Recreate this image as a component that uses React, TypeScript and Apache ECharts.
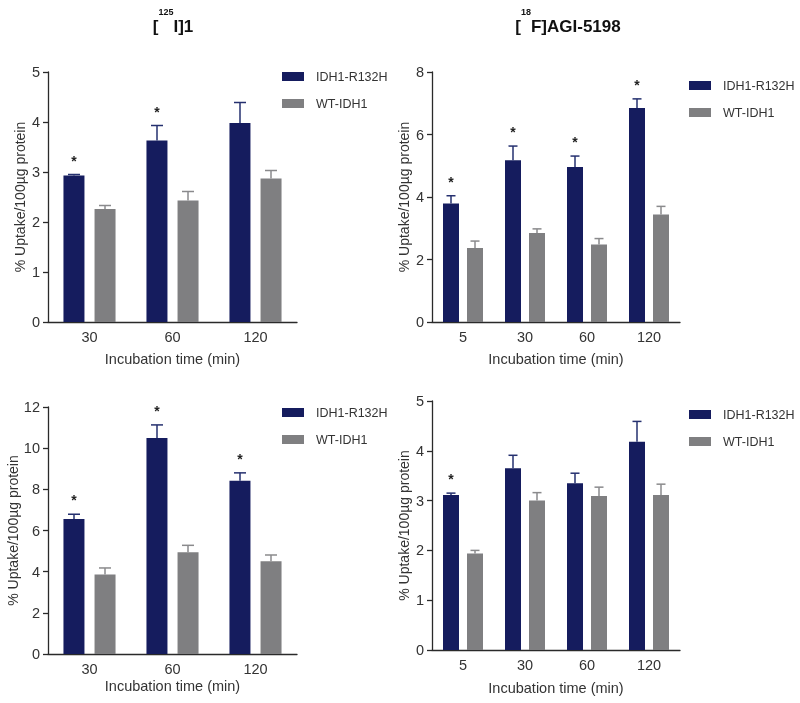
import React, { useEffect, useRef } from "react";
import * as echarts from "echarts";

const seriesNames = ["IDH1-R132H", "WT-IDH1"];
const yAxisName = "% Uptake/100µg protein";
const xAxisName = "Incubation time (min)";

// Top-left: [125I]1
const catsA = ["30", "60", "120"];
const mutA = [2.93, 3.63, 3.98];
const mutErrA = [0.02, 0.3, 0.41];
const wtA = [2.26, 2.43, 2.87];
const wtErrA = [0.07, 0.18, 0.16];
const sigA = [1, 1, 0];

// Top-right: [18F]AGI-5198
const catsB = ["5", "30", "60", "120"];
const mutB = [3.79, 5.18, 4.96, 6.85];
const mutErrB = [0.25, 0.45, 0.35, 0.29];
const wtB = [2.37, 2.85, 2.48, 3.44];
const wtErrB = [0.22, 0.13, 0.19, 0.26];
const sigB = [1, 1, 1, 1];

// Bottom-left
const catsC = ["30", "60", "120"];
const mutC = [6.56, 10.5, 8.42];
const mutErrC = [0.23, 0.63, 0.38];
const wtC = [3.86, 4.94, 4.51];
const wtErrC = [0.32, 0.34, 0.3];
const sigC = [1, 1, 1];

// Bottom-right
const catsD = ["5", "30", "60", "120"];
const mutD = [3.11, 3.65, 3.35, 4.18];
const mutErrD = [0.04, 0.26, 0.2, 0.41];
const wtD = [1.94, 3.0, 3.09, 3.11];
const wtErrD = [0.06, 0.16, 0.18, 0.22];
const sigD = [1, 0, 0, 0];

const yMax = [5, 8, 12, 5];
const yInterval = [1, 2, 2, 1];

const FONT = "'Liberation Sans', Arial, sans-serif";
const NAVY = "#151c5e";
const GREY = "#7f7f81";
const NAVY_ERR = "#25306f";
const GREY_ERR = "#8a8a8c";
const AXIS = "#2a2a2a";

const panels = [
  { cats: catsA, mut: mutA, mutErr: mutErrA, wt: wtA, wtErr: wtErrA, sig: sigA,
    grid: { left: 48, top: 72, width: 249, height: 250 }, barWidth: 21, gap: 10, cap: 6,
    legend: { left: 282, top: 69 }, xGap: 29 },
  { cats: catsB, mut: mutB, mutErr: mutErrB, wt: wtB, wtErr: wtErrB, sig: sigB,
    grid: { left: 432, top: 72, width: 248, height: 250 }, barWidth: 16, gap: 8, cap: 4.5,
    legend: { left: 689, top: 78 }, xGap: 29 },
  { cats: catsC, mut: mutC, mutErr: mutErrC, wt: wtC, wtErr: wtErrC, sig: sigC,
    grid: { left: 48, top: 407, width: 249, height: 247 }, barWidth: 21, gap: 10, cap: 6,
    legend: { left: 282, top: 405 }, xGap: 24 },
  { cats: catsD, mut: mutD, mutErr: mutErrD, wt: wtD, wtErr: wtErrD, sig: sigD,
    grid: { left: 432, top: 401, width: 248, height: 249 }, barWidth: 16, gap: 8, cap: 4.5,
    legend: { left: 689, top: 407 }, xGap: 30 },
];

function errSeries(idx: number, values: number[], errs: number[], sig: number[], offset: number, cap: number, color: string, name: string) {
  return {
    type: "custom",
    name,
    xAxisIndex: idx,
    yAxisIndex: idx,
    silent: true,
    z: 5,
    data: values.map((v, i) => [i, v, errs[i], sig[i]]),
    renderItem: (_params: any, api: any) => {
      const i = api.value(0);
      const v = api.value(1);
      const e = api.value(2);
      const s = api.value(3);
      const base = api.coord([i, v]);
      const top = api.coord([i, v + e]);
      const x = base[0] + offset;
      const children: any[] = [
        { type: "line", shape: { x1: x, y1: base[1], x2: x, y2: top[1] }, style: { stroke: color, lineWidth: 1.5 } },
        { type: "line", shape: { x1: x - cap, y1: top[1], x2: x + cap, y2: top[1] }, style: { stroke: color, lineWidth: 1.5 } },
      ];
      if (s) {
        children.push({
          type: "text",
          x,
          y: top[1] - 14,
          style: { text: "*", fontSize: 14, fontWeight: "bold", fill: "#222", align: "center", verticalAlign: "middle", fontFamily: FONT },
        });
      }
      return { type: "group", children };
    },
  };
}

export default function App() {
  const ref = useRef<HTMLDivElement>(null);
  useEffect(() => {
    document.body.style.margin = "0";
    if (!ref.current) return;
    const chart = echarts.init(ref.current, null, { renderer: "svg" });

    const grid: any[] = [];
    const xAxis: any[] = [];
    const yAxis: any[] = [];
    const series: any[] = [];
    const legend: any[] = [];

    panels.forEach((p, idx) => {
      grid.push({ ...p.grid, containLabel: false });
      xAxis.push({
        type: "category",
        gridIndex: idx,
        data: p.cats,
        name: xAxisName,
        nameLocation: "middle",
        nameGap: p.xGap,
        nameTextStyle: { fontSize: 14.5, color: "#333", fontFamily: FONT },
        axisLine: { show: true, lineStyle: { color: AXIS, width: 1.3 } },
        axisTick: { show: false },
        axisLabel: { fontSize: 14.5, color: "#333", margin: 7, fontFamily: FONT },
        splitLine: { show: false },
      });
      yAxis.push({
        type: "value",
        gridIndex: idx,
        min: 0,
        max: yMax[idx],
        interval: yInterval[idx],
        name: yAxisName,
        nameLocation: "middle",
        nameGap: 21,
        nameTextStyle: { fontSize: 14, color: "#333", fontFamily: FONT },
        axisLine: { show: true, lineStyle: { color: AXIS, width: 1.3 } },
        axisTick: { show: true, length: 5, lineStyle: { color: AXIS, width: 1.3 } },
        axisLabel: { fontSize: 14.5, color: "#333", margin: 8, fontFamily: FONT },
        splitLine: { show: false },
      });
      const gapPct = Math.round((p.gap / p.barWidth) * 100) + "%";
      series.push({
        type: "bar",
        name: seriesNames[0],
        xAxisIndex: idx,
        yAxisIndex: idx,
        data: p.mut,
        barWidth: p.barWidth,
        barGap: gapPct,
        itemStyle: { color: NAVY },
      });
      series.push({
        type: "bar",
        name: seriesNames[1],
        xAxisIndex: idx,
        yAxisIndex: idx,
        data: p.wt,
        barWidth: p.barWidth,
        barGap: gapPct,
        itemStyle: { color: GREY },
      });
      const off = (p.barWidth + p.gap) / 2;
      series.push(errSeries(idx, p.mut, p.mutErr, p.sig, -off, p.cap, NAVY_ERR, "err-mut-" + idx));
      series.push(errSeries(idx, p.wt, p.wtErr, p.wt.map(() => 0), off, p.cap, GREY_ERR, "err-wt-" + idx));
      legend.push({
        orient: "vertical",
        left: p.legend.left,
        top: p.legend.top,
        padding: 0,
        itemWidth: 22,
        itemHeight: 9,
        itemGap: 12,
        icon: "rect",
        selectedMode: false,
        data: seriesNames,
        textStyle: { fontSize: 12.5, color: "#333", fontFamily: FONT, padding: [0, 0, 0, 7], lineHeight: 15 },
      });
    });

    const titleRich = {
      b: { fontSize: 17, fontWeight: "bold", fontFamily: FONT, fill: "#111", lineHeight: 28, verticalAlign: "bottom" },
      s: { fontSize: 9, fontWeight: "bold", fontFamily: FONT, fill: "#111", lineHeight: 9, verticalAlign: "top" },
    };

    chart.setOption({
      animation: false,
      grid,
      xAxis,
      yAxis,
      series,
      legend,
      graphic: [
        {
          type: "text",
          x: 173,
          y: 7,
          style: { text: "{b|[}{s|125}{b|I]1}", rich: titleRich, align: "center", verticalAlign: "top" },
        },
        {
          type: "text",
          x: 568,
          y: 7,
          style: { text: "{b|[}{s|18}{b|F]AGI-5198}", rich: titleRich, align: "center", verticalAlign: "top" },
        },
      ],
    });
    return () => chart.dispose();
  }, []);
  return <div ref={ref} style={{ position: "fixed", left: 0, top: 0, width: 800, height: 703 }} />;
}
